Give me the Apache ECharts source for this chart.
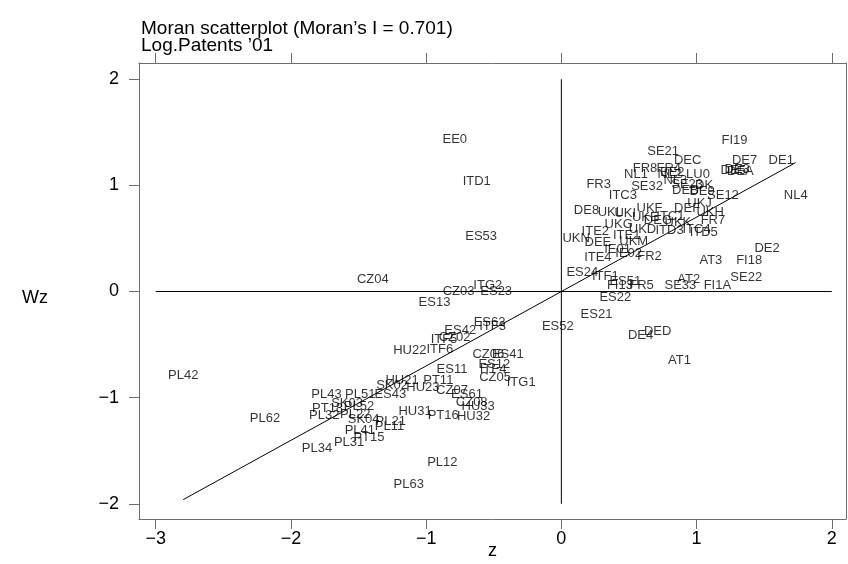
<!DOCTYPE html>
<html>
<head>
<meta charset="utf-8">
<script src="https://cdn.jsdelivr.net/npm/echarts@6/dist/echarts.min.js"></script>
<style>
  html, body { margin: 0; padding: 0; background: #fff; }
  #chart { width: 848px; height: 564px; }
</style>
</head>
<body>
<div id="chart"></div>
<script>
// region codes and their (z, Wz) coordinates
const regions = [
  "EE0", "ITD1", "ES53", "CZ04", "ITG2", "CZ03", "ES23", "ES13",
  "ES62", "ITF3", "ES42", "ITF5", "CZ02", "ITF6", "HU22", "CZ06", "ES41",
  "ES11", "ES12", "ITF4", "CZ05", "ITG1", "HU21", "PT11", "SK02", "HU23",
  "CZ07", "ES61", "CZ08", "HU33", "HU31", "PT16", "HU32", "ES43",
  "PL43", "PL51", "SK03", "PT18", "PL52", "PL32", "PL22", "SK04", "PL21",
  "PL11", "PL41", "PT15", "PL31", "PL34", "PL62", "PL12", "PL63", "PL42",
  "ES21", "ES52", "DE4", "DED", "AT1", "ES22", "ES24", "ITF1", "ES51",
  "FI13", "FR5", "SE33", "AT2", "FI1A", "SE22", "AT3", "FI18", "DE2",
  "FR2", "ITE4", "IE01", "IE02", "UKN", "DEE", "ITE2", "ITE1", "UKM",
  "UKD", "ITD3", "ITC4", "ITD5", "UKG", "FI19", "SE21", "DEC", "DE7",
  "DE1", "DE5", "DEA", "DE3", "FR8", "FR4", "NL1", "NL2", "BE2", "LU0",
  "FR3", "SE32", "NL3", "SE23", "DK", "DEB", "DE9", "SE12", "NL4", "ITC3",
  "UKJ", "DEF", "UKF", "DE8", "UKL", "UKI", "UKE", "ITC1", "UKK", "DEG",
  "UKH", "FR7"
];
const zValues = [
  -0.788, -0.626, -0.593, -1.394, -0.544, -0.760, -0.482, -0.938,
  -0.531, -0.509, -0.748, -0.868, -0.790, -0.899, -1.121, -0.540, -0.396,
  -0.809, -0.496, -0.505, -0.490, -0.297, -1.178, -0.910, -1.252, -1.024,
  -0.809, -0.698, -0.663, -0.615, -1.082, -0.874, -0.649, -1.265,
  -1.737, -1.487, -1.585, -1.729, -1.497, -1.754, -1.524, -1.462, -1.262,
  -1.271, -1.490, -1.423, -1.570, -1.807, -2.192, -0.880, -1.129, -2.796,
  0.260, -0.026, 0.586, 0.712, 0.874, 0.399, 0.155, 0.325, 0.473,
  0.433, 0.593, 0.880, 0.942, 1.154, 1.367, 1.106, 1.389, 1.521,
  0.652, 0.270, 0.416, 0.498, 0.109, 0.270, 0.251, 0.483, 0.535,
  0.600, 0.800, 1.000, 1.053, 0.424, 1.281, 0.753, 0.934, 1.355,
  1.626, 1.271, 1.324, 1.300, 0.619, 0.794, 0.552, 0.800, 0.820, 1.010,
  0.276, 0.634, 0.843, 0.930, 1.056, 0.917, 1.041, 1.195, 1.733, 0.455,
  1.022, 0.930, 0.652, 0.186, 0.362, 0.473, 0.621, 0.806, 0.862, 0.714,
  1.100, 1.121
];
const wzValues = [
  1.431, 1.037, 0.520, 0.111, 0.056, 0.002, 0.002, -0.099,
  -0.289, -0.327, -0.367, -0.454, -0.431, -0.546, -0.551, -0.588, -0.595,
  -0.734, -0.687, -0.734, -0.811, -0.859, -0.833, -0.838, -0.881, -0.901,
  -0.932, -0.971, -1.042, -1.080, -1.125, -1.169, -1.178, -0.974,
  -0.974, -0.974, -1.057, -1.099, -1.084, -1.165, -1.162, -1.205, -1.222,
  -1.268, -1.313, -1.376, -1.419, -1.482, -1.197, -1.609, -1.815, -0.786,
  -0.215, -0.327, -0.409, -0.372, -0.645, -0.053, 0.184, 0.144, 0.099,
  0.058, 0.058, 0.058, 0.118, 0.058, 0.135, 0.296, 0.296, 0.409,
  0.332, 0.317, 0.397, 0.360, 0.497, 0.460, 0.563, 0.532, 0.473,
  0.585, 0.572, 0.586, 0.555, 0.635, 1.426, 1.320, 1.233, 1.233,
  1.233, 1.144, 1.128, 1.150, 1.162, 1.162, 1.107, 1.103, 1.120, 1.107,
  1.005, 0.990, 1.049, 1.009, 1.002, 0.951, 0.939, 0.901, 0.901, 0.904,
  0.830, 0.786, 0.779, 0.767, 0.741, 0.736, 0.698, 0.704, 0.654, 0.668,
  0.741, 0.668
];

// reference lines and fitted line end points (from min z to max z)
const hLineZ = [-3, 2];
const vLineWz = [-2, 2];
const fitZ = [-2.796, 1.733];
const fitWz = [-1.96, 1.215];

const xTicks = [-3, -2, -1, 0, 1, 2];
const yTicks = [-2, -1, 0, 1, 2];

const FONT = "Liberation Sans";
const BOX = "#6e6e6e";

const chart = echarts.init(document.getElementById("chart"));

const fmtMinus = v => String(v).replace("-", "\u2212");

const labelData = regions.map((name, i) => ({ name, value: [zValues[i], wzValues[i]] }));

const option = {
  animation: false,
  title: {
    text: "Moran scatterplot (Moran\u2019s I = 0.701)\nLog.Patents \u201901",
    left: 136,
    top: 15,
    textStyle: { fontFamily: FONT, fontSize: 19, fontWeight: "normal", color: "#000", lineHeight: 17 }
  },
  graphic: [
    {
      type: "text",
      left: 22,
      top: 289,
      style: { text: "Wz", fontFamily: FONT, fontSize: 18, fill: "#000" }
    }
  ],
  grid: { left: 139, top: 63, right: 2, bottom: 45, show: false, outerBoundsMode: "none", containLabel: false },
  xAxis: [
    {
      type: "value",
      position: "bottom",
      min: -3.1235,
      max: 2.105,
      name: "z",
      nameLocation: "middle",
      nameGap: 23,
      nameMoveOverlap: false,
      nameTextStyle: { fontFamily: FONT, fontSize: 18, color: "#000" },
      axisLine: { show: true, onZero: false, lineStyle: { color: BOX } },
      axisTick: { show: true, length: 10, customValues: xTicks, lineStyle: { color: BOX } },
      axisLabel: { customValues: xTicks, margin: 11, fontFamily: FONT, fontSize: 18, color: "#000", formatter: fmtMinus },
      splitLine: { show: false }
    },
    {
      type: "value",
      position: "top",
      min: -3.1235,
      max: 2.105,
      axisLine: { show: true, onZero: false, lineStyle: { color: BOX } },
      axisTick: { show: true, length: 10, customValues: xTicks, lineStyle: { color: BOX } },
      axisLabel: { show: false },
      splitLine: { show: false }
    }
  ],
  yAxis: [
    {
      type: "value",
      position: "left",
      min: -2.143,
      max: 2.153,
      axisLine: { show: true, onZero: false, lineStyle: { color: BOX } },
      axisTick: { show: true, length: 10, customValues: yTicks, lineStyle: { color: BOX } },
      axisLabel: { customValues: yTicks, margin: 20, fontFamily: FONT, fontSize: 18, color: "#000", formatter: fmtMinus },
      splitLine: { show: false }
    },
    {
      type: "value",
      position: "right",
      min: -2.143,
      max: 2.153,
      axisLine: { show: true, onZero: false, lineStyle: { color: BOX } },
      axisTick: { show: false },
      axisLabel: { show: false },
      splitLine: { show: false }
    }
  ],
  series: [
    {
      type: "line",
      data: [[hLineZ[0], 0], [hLineZ[1], 0]],
      symbol: "none",
      lineStyle: { color: "#000", width: 1 },
      silent: true
    },
    {
      type: "line",
      data: [[0, vLineWz[0]], [0, vLineWz[1]]],
      symbol: "none",
      lineStyle: { color: "#000", width: 1 },
      silent: true
    },
    {
      type: "line",
      data: [[fitZ[0], fitWz[0]], [fitZ[1], fitWz[1]]],
      symbol: "none",
      lineStyle: { color: "#000", width: 1 },
      silent: true
    },
    {
      type: "scatter",
      data: labelData,
      symbolSize: 0,
      label: {
        show: true,
        position: "inside",
        formatter: p => p.name,
        fontFamily: FONT,
        fontSize: 13,
        color: "#000"
      },
      silent: true
    }
  ]
};

chart.setOption(option);
</script>
</body>
</html>
